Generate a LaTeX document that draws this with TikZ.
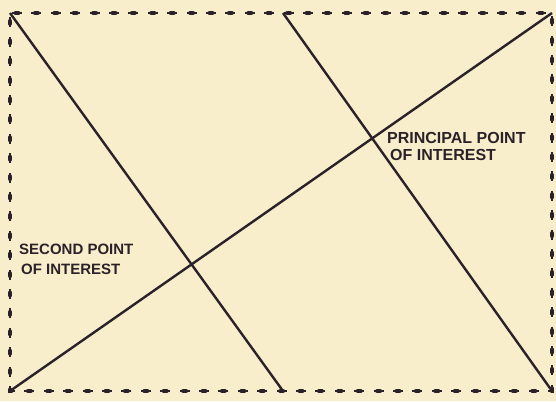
\documentclass[tikz,border=0pt]{standalone}
\usepackage{fontspec}
\setmainfont{Liberation Sans}
\definecolor{Paper}{RGB}{248, 238, 204}
\definecolor{Ink}{RGB}{42, 34, 40}
\usetikzlibrary{positioning}

\begin{document}
\begin{tikzpicture}[x=1pt, y=-1pt,
    edge/.style={draw=Ink, line width=2.4pt},
    rim/.style={draw=Ink, line width=2pt, dash pattern=on 10pt off 9.4pt, dash phase=-2pt},
    rimknot/.style={draw=Ink, line width=4pt, line cap=round, dash pattern=on 3pt off 16.4pt, dash phase=-5.5pt},
    label/.style={font=\fontsize{16}{17}\selectfont\bfseries, text=Ink, align=left, inner sep=0pt, anchor=north west}]

    \fill[Paper] (0,0) rectangle (556,401);
    \useasboundingbox (0,0) rectangle (556,401);

    % Nodes
    \coordinate (tl) at (10,13);
    \coordinate (tr) at (552,13);
    \coordinate (br) at (552,391);
    \coordinate (bl) at (10,391);
    \coordinate (tm) at (283,13);
    \coordinate (bm) at (283,391);
    \node [label] (principal) at (387,132) {PRINCIPAL POINT\\\hspace{3pt}OF INTEREST};
    \node [label, font=\fontsize{15}{20}\selectfont\bfseries] (second) at (19,244) {SECOND POINT\\\hspace{2pt}OF INTEREST};

    % Frame
    \draw [rim] (tl) -- (tr) -- (br) -- (bl) -- cycle;
    \draw [rimknot] (tl) -- (tr) -- (br) -- (bl) -- cycle;

    % Connectors
    \draw [edge] (tl) -- (bm);
    \draw [edge] (tm) -- (br);
    \draw [edge] (bl) -- (tr);
  \end{tikzpicture}
\end{document}
